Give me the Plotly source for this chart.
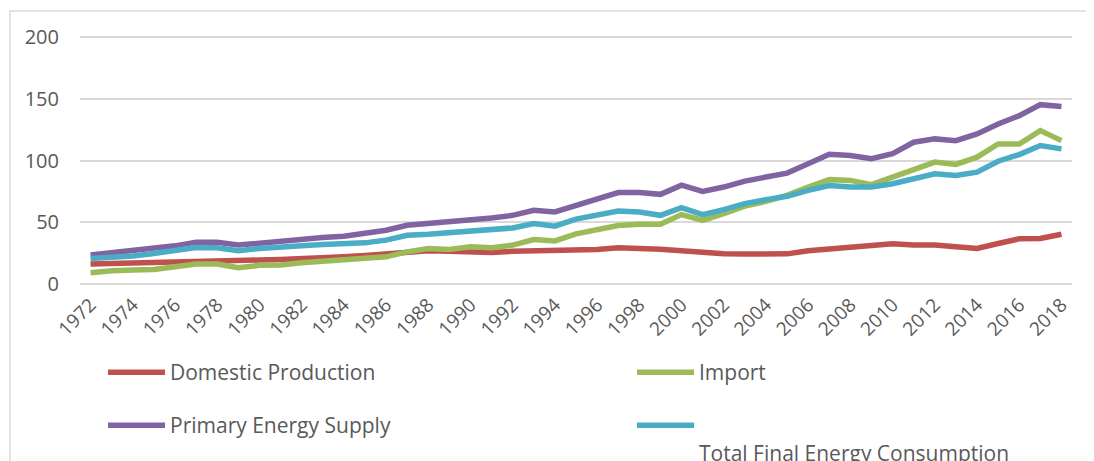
import plotly.graph_objects as go

years = list(range(1972, 2019))

domestic_production = [16.1, 16.4, 16.7, 17.2, 18.0, 18.5, 18.8, 18.0, 19.4, 19.9,
                       20.4, 21.0, 22.0, 23.0, 24.2, 26.0, 26.9, 26.5, 26.0, 25.5,
                       26.5, 27.0, 27.2, 27.2, 28.0, 29.3, 29.3, 28.2, 26.9, 25.5,
                       24.5, 24.2, 24.2, 24.4, 26.9, 28.2, 30.4, 30.6, 32.6, 31.5,
                       31.5, 30.1, 28.8, 32.8, 36.6, 36.8, 40.3]

imports = [9.1, 10.8, 11.3, 11.8, 14.0, 16.1, 16.1, 13.2, 15.1, 15.3,
           17.2, 18.5, 19.4, 20.7, 22.0, 26.0, 28.8, 28.0, 30.1, 29.3,
           31.5, 36.0, 34.9, 40.6, 44.1, 47.3, 48.4, 48.4, 56.2, 51.6,
           57.0, 63.1, 66.9, 71.8, 78.5, 84.5, 83.9, 80.5, 86.6, 92.5,
           98.7, 96.8, 102.7, 113.4, 113.4, 124.2, 116.1]

primary_energy_supply = [23.4, 25.3, 26.6, 28.8, 30.9, 33.9, 33.8, 31.5, 33.3, 34.1,
                         36.0, 37.6, 38.7, 40.9, 43.5, 47.6, 48.9, 50.8, 52.4, 53.5,
                         55.6, 59.7, 58.3, 63.3, 69.1, 74.0, 74.0, 72.6, 80.0, 75.0,
                         78.5, 83.3, 86.6, 89.8, 97.3, 105.0, 104.0, 101.4, 105.6, 114.8,
                         117.5, 116.1, 121.5, 129.6, 136.3, 145.2, 143.8]

total_final_consumption = [20.7, 21.5, 22.6, 24.7, 26.9, 29.6, 29.3, 26.9, 28.8, 29.3,
                           30.9, 32.0, 32.8, 33.3, 35.5, 39.5, 40.3, 41.4, 42.7, 43.5,
                           45.4, 48.9, 46.8, 52.5, 55.6, 59.1, 58.3, 55.6, 61.8, 56.2,
                           60.2, 65.1, 68.3, 71.0, 75.8, 79.8, 78.5, 78.5, 81.2, 85.2,
                           89.2, 87.9, 90.6, 99.4, 104.8, 112.1, 109.4]

tick_years = list(range(1972, 2019, 2))
tick_labels = [str(y) for y in tick_years]
y_ticks = [0, 50, 100, 150, 200]

series = [
    ("Domestic Production", domestic_production, "#c0504d", "legend"),
    ("Import", imports, "#9bbb59", "legend2"),
    ("Primary Energy Supply", primary_energy_supply, "#8064a2", "legend3"),
    ("<br>Total Final Energy Consumption", total_final_consumption, "#4bacc6", "legend4"),
]

# page body has an 8px margin; figure sized so it fills the window
OFF = 8
W, H = 1094 - OFF, 461 - OFF
PX_PER_UNIT = 247 / 200.0
plot_left, plot_right, plot_bottom = 80, 1072, 284   # screen px
ph = 250
ymax = ph / PX_PER_UNIT
L = plot_left - OFF
R = W - (plot_right - OFF)
B = H - (plot_bottom - OFF)
T = H - B - ph
pw = W - L - R

def px_x(sx):
    return (sx - OFF - L) / pw

def px_y(sy):
    return (H - B - (sy - OFF)) / ph

fig = go.Figure()
for name, vals, color, lg in series:
    fig.add_trace(go.Scatter(
        x=years, y=vals, name=name, mode="lines",
        line=dict(color=color, width=5.5),
        legend=lg, showlegend=True,
    ))

font_fam = "Open Sans"
txt_col = "#595959"
leg_common = dict(orientation="v", xanchor="left", yanchor="top",
                  bgcolor="rgba(0,0,0,0)",
                  font=dict(family=font_fam, size=21, color=txt_col),
                  itemwidth=57, valign="top", xref="paper", yref="paper")

fig.update_layout(
    width=W, height=H, showlegend=True,
    margin=dict(l=L, r=R, t=T, b=B, autoexpand=False),
    paper_bgcolor="white", plot_bgcolor="white",
    font=dict(family=font_fam, color=txt_col),
    xaxis=dict(
        range=[1971.5, 2018.5],
        tickmode="array", tickvals=tick_years, ticktext=tick_labels,
        tickangle=-45, showgrid=False, zeroline=False, showline=False,
        ticks="", tickfont=dict(family=font_fam, size=19, color=txt_col),
        ticklabelstandoff=5,
    ),
    yaxis=dict(
        range=[0, ymax], tickmode="array", tickvals=y_ticks,
        showgrid=True, gridcolor="#d9d9d9", gridwidth=2,
        zeroline=True, zerolinecolor="#d9d9d9", zerolinewidth=2,
        showline=False, ticks="",
        tickfont=dict(family=font_fam, size=20, color=txt_col),
        ticklabelstandoff=20,
    ),
    legend=dict(x=px_x(103), y=px_y(352), **leg_common),
    legend2=dict(x=px_x(632), y=px_y(352), **leg_common),
    legend3=dict(x=px_x(103), y=px_y(405), **leg_common),
    legend4=dict(x=px_x(632), y=px_y(405), **leg_common),
    shapes=[dict(type="rect", xref="paper", yref="paper",
                 x0=px_x(10), x1=px_x(1110), y0=px_y(480), y1=px_y(11),
                 line=dict(color="#d9d9d9", width=1.5), layer="below")],
)

fig.write_html("out.html")
